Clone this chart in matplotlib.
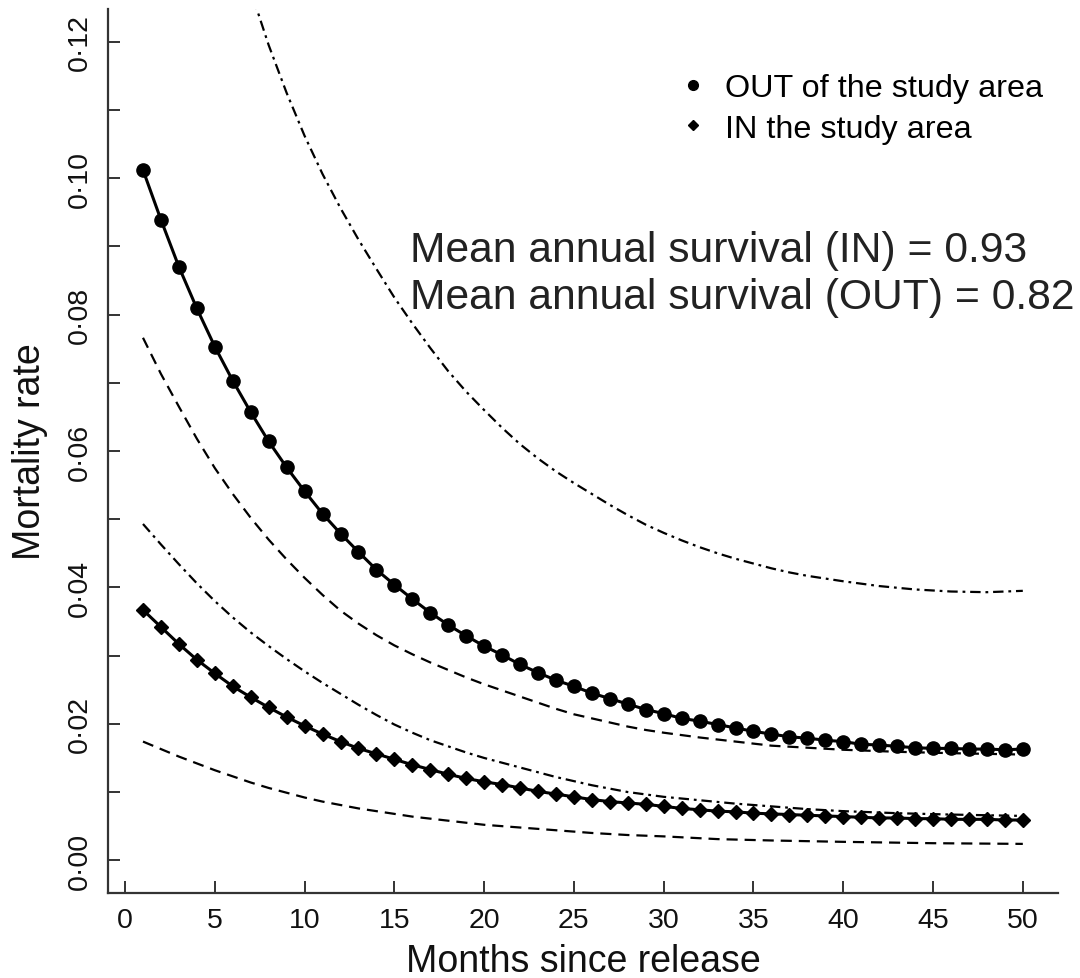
import matplotlib
matplotlib.use('Agg')
import matplotlib.pyplot as plt
from matplotlib.lines import Line2D

plt.rcParams['font.family'] = ['Liberation Sans', 'DejaVu Sans']
plt.rcParams['lines.scale_dashes'] = False

# ---------------- data ----------------
months = list(range(1, 51))
out_rate = [0.1012, 0.0939, 0.0870, 0.0809, 0.0753, 0.0703, 0.0657, 0.0614, 0.0576, 0.0541,
            0.0508, 0.0479, 0.0452, 0.0426, 0.0404, 0.0383, 0.0363, 0.0345, 0.0329, 0.0314,
            0.0301, 0.0287, 0.0275, 0.0264, 0.0255, 0.0245, 0.0237, 0.0229, 0.0221, 0.0215,
            0.0208, 0.0204, 0.0199, 0.0194, 0.0189, 0.0185, 0.0181, 0.0179, 0.0176, 0.0174,
            0.0170, 0.0169, 0.0167, 0.0165, 0.0164, 0.0164, 0.0163, 0.0163, 0.0162, 0.0163]
in_rate = [0.0367, 0.0342, 0.0317, 0.0294, 0.0274, 0.0255, 0.0239, 0.0224, 0.0210, 0.0197,
           0.0185, 0.0174, 0.0164, 0.0156, 0.0148, 0.0140, 0.0133, 0.0126, 0.0120, 0.0115,
           0.0111, 0.0106, 0.0101, 0.0097, 0.0093, 0.0089, 0.0086, 0.0084, 0.0082, 0.0079,
           0.0076, 0.0074, 0.0072, 0.0071, 0.0069, 0.0068, 0.0067, 0.0066, 0.0065, 0.0064,
           0.0063, 0.0062, 0.0062, 0.0061, 0.0061, 0.0060, 0.0060, 0.0060, 0.0059, 0.0059]

# upper confidence limit, OUT (dot-dash)
out_upper_m = [7, 8, 9, 10, 11, 12, 13, 14, 15, 16, 17, 18, 19, 20, 21, 22, 23, 24, 25, 26,
               27, 28, 29, 30, 31, 32, 33, 34, 35, 36, 37, 38, 39, 40, 42, 44, 46, 48, 50]
out_upper = [0.1275, 0.1195, 0.1125, 0.1062, 0.1006, 0.0956, 0.0910, 0.0867, 0.0825, 0.0787,
             0.0751, 0.0717, 0.0687, 0.0660, 0.0634, 0.0610, 0.0589, 0.0570, 0.0553, 0.0537,
             0.0521, 0.0506, 0.0492, 0.0480, 0.0469, 0.0459, 0.0450, 0.0442, 0.0435, 0.0428,
             0.0422, 0.0417, 0.0413, 0.0409, 0.0402, 0.0397, 0.0394, 0.0393, 0.0395]

# lower confidence limit, OUT (dashed)
out_lower_m = [1, 2, 3, 4, 5, 6, 7, 8, 9, 10, 11, 12, 13, 14, 15, 16, 17, 18, 19, 20, 21, 22,
               23, 24, 25, 26, 27, 28, 29, 30, 32, 34, 36, 38, 40, 43, 46, 50]
out_lower = [0.0766, 0.0713, 0.0665, 0.0618, 0.0575, 0.0537, 0.0502, 0.0470, 0.0441, 0.0414,
             0.0389, 0.0366, 0.0347, 0.0330, 0.0315, 0.0302, 0.0290, 0.0279, 0.0268, 0.0258,
             0.0249, 0.0240, 0.0231, 0.0222, 0.0214, 0.0208, 0.0202, 0.0196, 0.0191, 0.0187,
             0.0180, 0.0174, 0.0168, 0.0165, 0.0162, 0.0159, 0.0157, 0.0155]

# upper confidence limit, IN (dot-dash)
in_upper_m = [1, 2, 3, 4, 5, 6, 7, 8, 9, 10, 11, 12, 13, 14, 15, 16, 17, 18, 19, 20, 21, 22,
              23, 24, 25, 26, 27, 28, 30, 32, 34, 36, 38, 40, 43, 46, 50]
in_upper = [0.0493, 0.0463, 0.0434, 0.0406, 0.0380, 0.0356, 0.0334, 0.0314, 0.0295, 0.0277,
            0.0260, 0.0244, 0.0228, 0.0213, 0.0199, 0.0187, 0.0176, 0.0167, 0.0158, 0.0150,
            0.0143, 0.0136, 0.0129, 0.0122, 0.0116, 0.0110, 0.0105, 0.0100, 0.0093, 0.0088,
            0.0083, 0.0079, 0.0075, 0.0072, 0.0069, 0.0067, 0.0065]

# lower confidence limit, IN (dashed)
in_lower_m = [1, 2, 3, 4, 5, 6, 7, 8, 9, 10, 11, 12, 13, 14, 15, 16, 17, 18, 19, 20, 22, 24,
              26, 28, 30, 33, 36, 40, 45, 50]
in_lower = [0.0174, 0.0163, 0.0152, 0.0142, 0.0132, 0.0123, 0.0114, 0.0106, 0.0099, 0.0092,
            0.0086, 0.0081, 0.0076, 0.0072, 0.0068, 0.0064, 0.0061, 0.0058, 0.0055, 0.0052,
            0.0048, 0.0044, 0.0040, 0.0037, 0.0035, 0.0031, 0.0029, 0.0027, 0.0025, 0.0024]

x_ticks = [0, 5, 10, 15, 20, 25, 30, 35, 40, 45, 50]
y_ticks = [0.00, 0.01, 0.02, 0.03, 0.04, 0.05, 0.06, 0.07, 0.08, 0.09, 0.10, 0.11, 0.12]
y_tick_labels = ['0·00', '', '0·02', '', '0·04', '', '0·06', '', '0·08', '', '0·10', '', '0·12']

legend_labels = ['OUT of the study area', 'IN the study area']
annot_lines = ['Mean annual survival (IN) = 0.93', 'Mean annual survival (OUT) = 0.82']

# ---------------- figure ----------------
W, H = 1080, 979
fig = plt.figure(figsize=(W / 100, H / 100), dpi=100)
left, right, top, bottom = 107.8, 1058, 10, 894
ax = fig.add_axes([left / W, 1 - bottom / H, (right - left) / W, (bottom - top) / H])
ax.set_xlim(-0.96, 51.96)
ax.set_ylim(-0.0048, 0.1248)

dash = (0, (8, 5))
dotdash = (0, (7.5, 3.5, 2, 3.5))

ax.plot(out_upper_m, out_upper, color='black', lw=1.6, linestyle=dotdash)
ax.plot(out_lower_m, out_lower, color='black', lw=1.6, linestyle=dash)
ax.plot(in_upper_m, in_upper, color='black', lw=1.6, linestyle=dotdash)
ax.plot(in_lower_m, in_lower, color='black', lw=1.6, linestyle=dash)

ax.plot(months, out_rate, color='black', lw=2.2, marker='o', ms=9.5, zorder=3)
ax.plot(months, in_rate, color='black', lw=2.2, marker='D', ms=7.5, zorder=3)

for s in ['top', 'right']:
    ax.spines[s].set_visible(False)
for s in ['left', 'bottom']:
    ax.spines[s].set_color('#333333')
    ax.spines[s].set_linewidth(1.6)

ax.set_xticks(x_ticks)
ax.set_xticklabels([str(v) for v in x_ticks])
ax.set_yticks(y_ticks)
ax.set_yticklabels(y_tick_labels, rotation=90, va='center')
ax.tick_params(axis='both', direction='in', length=8.5, width=1.4, color='#333333',
               labelsize=20.5, labelcolor='#111111')
ax.tick_params(axis='x', pad=10)
ax.tick_params(axis='y', pad=11)

ax.set_xlabel('Months since release', fontsize=27, color='#111111')
ax.xaxis.set_label_coords(0.5, -(962 - bottom) / (bottom - top), transform=ax.transAxes)
ax.xaxis.label.set_va('center')
ax.set_ylabel('Mortality rate', fontsize=27, color='#111111')
ax.yaxis.set_label_coords(-(left - 30) / (right - left), 0.5, transform=ax.transAxes)
ax.yaxis.label.set_va('center')

handles = [Line2D([], [], color='black', marker='o', ms=7, linestyle='none'),
           Line2D([], [], color='black', marker='D', ms=5.5, linestyle='none')]
ax.legend(handles, legend_labels, loc='upper left', frameon=False, fontsize=23.3,
          bbox_to_anchor=((680 - left) / (right - left), 1 - (74 - top) / (bottom - top)),
          handlelength=0.8, handletextpad=0.6, labelspacing=0.33, borderpad=0,
          borderaxespad=0)

fig.text(410 / W, 1 - 251 / H, annot_lines[0], fontsize=30.7, color='#222222',
         ha='left', va='center')
fig.text(410 / W, 1 - 298 / H, annot_lines[1], fontsize=30.7, color='#222222',
         ha='left', va='center')

fig.savefig('out.png', dpi=100)
